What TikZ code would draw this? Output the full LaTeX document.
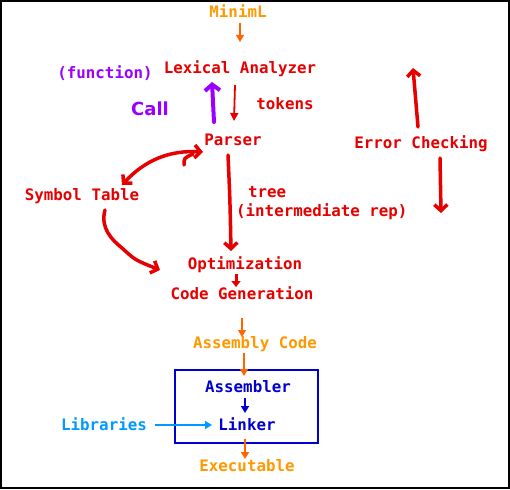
\documentclass[tikz,border=0pt]{standalone}
\usepackage{fontspec}
\setmainfont{DejaVu Sans Mono}
\newfontfamily\handfont{DejaVu Sans}
\usetikzlibrary{arrows.meta}
\definecolor{cred}{RGB}{230,0,0}
\definecolor{corange}{RGB}{255,153,0}
\definecolor{carrow}{RGB}{255,102,0}
\definecolor{cpurple}{RGB}{153,0,255}
\definecolor{cblue}{RGB}{0,0,210}
\definecolor{clight}{RGB}{0,153,255}
\tikzset{
  lbl/.style={font=\bfseries\fontsize{15.8}{16}\selectfont, inner sep=0pt, anchor=center},
  thinarr/.style={line width=1.6pt, -{Triangle[length=7pt,width=8pt]}},
  handarr/.style={line width=3.5pt, line cap=round, line join=round, -{Straight Barb[length=6pt,width=13pt,line width=3.5pt]}},
}
\begin{document}
\begin{tikzpicture}[x=1pt,y=-1pt]
\useasboundingbox (0,0) rectangle (510,489);
\fill[white] (0,0) rectangle (510,489);
\draw[line width=2pt] (1,1) rectangle (509,488);

% nodes
\node[lbl, text=corange] (minim) at (238,11) {MinimL};
\node[lbl, text=cred] (lex) at (240,69) {Lexical Analyzer};
\node[lbl, text=cpurple] (func) at (105,73) {(function)};
\node[font=\handfont\bfseries\fontsize{18}{18}\selectfont, inner sep=0pt, text=cpurple] (call) at (150,109) {Call};
\node[lbl, text=cred] (tokens) at (285,104) {tokens};
\node[lbl, text=cred] (parser) at (233,140) {Parser};
\node[lbl, text=cred] (err) at (421,144) {Error Checking};
\node[lbl, text=cred] (sym) at (82,196) {Symbol Table};
\node[lbl, text=cred, anchor=west] (tree) at (248,192) {tree};
\node[lbl, text=cred, anchor=west] (irep) at (236,212) {(intermediate rep)};
\node[lbl, text=cred] (opt) at (245,265) {Optimization};
\node[lbl, text=cred] (cg) at (242,293) {Code Generation};
\node[lbl, text=corange] (asm) at (255,344) {Assembly Code};
\node[lbl, text=cblue] (asmb) at (248,387) {Assembler};
\node[lbl, text=cblue] (link) at (247,424) {Linker};
\node[lbl, text=clight] (lib) at (104,424) {Libraries};
\node[lbl, text=corange] (exe) at (247,466) {Executable};
\node[draw=cblue, line width=2pt, minimum width=143pt, minimum height=73pt, inner sep=0pt] (box) at (246.5,406.5) {};

% connector end points
\coordinate (m1) at (240,23);   \coordinate (m2) at (240,42);
\coordinate (t1) at (235,85);   \coordinate (t2) at (234,121);
\coordinate (c1) at (214,122);  \coordinate (c2) at (212,82);
\coordinate (e1) at (418,127);  \coordinate (e2) at (413,68);
\coordinate (e3) at (440,158);  \coordinate (e4) at (441,213);
\coordinate (p1) at (228,155);  \coordinate (p2) at (231,251);
\coordinate (s1) at (122,185);  \coordinate (s2) at (203,152);
\coordinate (h1) at (184,165);  \coordinate (h2) at (193,154);
\coordinate (y1) at (105,210);  \coordinate (y2) at (160,270);
\coordinate (o1) at (236,274);  \coordinate (o2) at (236,287);
\coordinate (g1) at (242,318);  \coordinate (g2) at (242,337);
\coordinate (a1) at (244,353);  \coordinate (a2) at (244,376);
\coordinate (b1) at (245,398);  \coordinate (b2) at (245,413);
\coordinate (l1) at (155,425);  \coordinate (l2) at (212,425);
\coordinate (x1) at (245,439);  \coordinate (x2) at (245,459);

% connectors
\draw[thinarr, carrow] (m1) -- (m2);
\draw[line width=1.8pt, cred, -{Triangle[length=8pt,width=8pt]}] (t1) -- (t2);
\draw[handarr, cpurple, line width=4pt, -{Straight Barb[length=6pt,width=15pt,line width=4pt]}] (c1) -- (c2);
\draw[handarr, cred] (e1) -- (e2);
\draw[handarr, cred] (e3) -- (e4);
\draw[handarr, cred] (p1) .. controls (230,200) .. (p2);
\draw[handarr, cred, {Straight Barb[length=6pt,width=13pt,line width=3.5pt]}-{Straight Barb[length=6pt,width=13pt,line width=3.5pt]}] (s1) .. controls (145,160) and (170,150) .. (s2);
\draw[line width=3.5pt, line cap=round, cred] (h1) .. controls (184,158) .. (h2);
\draw[handarr, cred] (y1) .. controls (100,228) and (112,240) .. (122,248) .. controls (135,260) .. (y2);
\draw[line width=3pt, cred, -{Triangle[length=6pt,width=9pt]}] (o1) -- (o2);
\draw[thinarr, carrow] (g1) -- (g2);
\draw[thinarr, carrow] (a1) -- (a2);
\draw[thinarr, cblue] (b1) -- (b2);
\draw[thinarr, clight] (l1) -- (l2);
\draw[thinarr, carrow] (x1) -- (x2);
\end{tikzpicture}
\end{document}
